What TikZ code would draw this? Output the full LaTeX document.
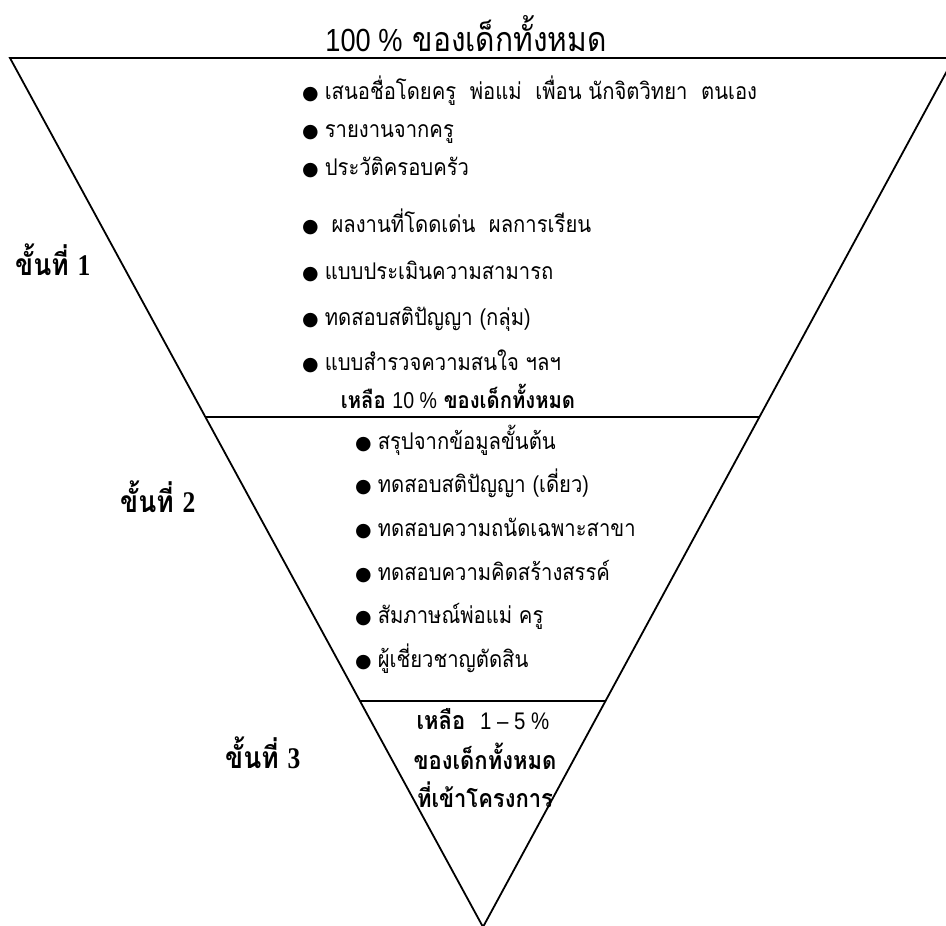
\documentclass[tikz,border=0pt]{standalone}
\usepackage{fontspec}
\usetikzlibrary{calc}
\newfontfamily\thaifont[Script=Thai,FakeStretch=0.88]{Loma}
\newfontfamily\latfont[FakeStretch=0.85]{Liberation Sans}
\newfontfamily\tmsfont[FakeStretch=0.85]{Liberation Serif}
\newfontfamily\dejavufont{DejaVu Sans}
\newcommand{\mybul}{{\dejavufont\fontsize{19}{19}\selectfont ●}\hspace{6pt}}
\tikzset{
  tri/.style={line width=1.8pt, black, line join=miter},
  itm/.style={anchor=base west, inner sep=0pt, font=\thaifont\fontsize{23}{26}\selectfont},
  stagelbl/.style={anchor=base west, inner sep=0pt, font=\thaifont\bfseries\fontsize{30}{32}\selectfont},
  ttl/.style={anchor=base, inner sep=0pt, font=\thaifont\fontsize{34}{36}\selectfont},
  rem/.style={anchor=base, inner sep=0pt, font=\thaifont\bfseries\fontsize{23}{26}\selectfont},
  remb/.style={anchor=base, inner sep=0pt, font=\thaifont\bfseries\fontsize{25}{28}\selectfont},
}
\begin{document}
\begin{tikzpicture}[x=1pt,y=-1pt]
\useasboundingbox (0,0) rectangle (946,926);
\fill[white] (0,0) rectangle (946,926);
\begin{scope}
\clip (0,0) rectangle (946,926);
\coordinate (TL) at (10,58);
\coordinate (TR) at (954,58);
\coordinate (AP) at (483,927);
\draw[tri] (TL) -- (TR) -- (AP) -- cycle;
\coordinate (L2) at ($(TL)!0.4131!(AP)$);
\coordinate (R2) at ($(TR)!0.4131!(AP)$);
\coordinate (L3) at ($(TL)!0.7399!(AP)$);
\coordinate (R3) at ($(TR)!0.7399!(AP)$);
\draw[tri] (L2) -- (R2);
\draw[tri] (L3) -- (R3);
\end{scope}

\node[ttl] (title) at (466,51) {{\latfont\fontsize{32}{34}\selectfont 100 \%} ของเด็กทั้งหมด};

\node[stagelbl] (s1) at (15,275) {ขั้นที่ {\tmsfont\bfseries\fontsize{30}{30}\selectfont 1}};
\node[stagelbl] (s2) at (120,512) {ขั้นที่ {\tmsfont\bfseries\fontsize{30}{30}\selectfont 2}};
\node[stagelbl] (s3) at (225,768) {ขั้นที่ {\tmsfont\bfseries\fontsize{30}{30}\selectfont 3}};

\node[itm] (a1) at (302,99)  {\mybul เสนอชื่อโดยครู\ \ พ่อแม่\ \ เพื่อน นักจิตวิทยา\ \ ตนเอง};
\node[itm] (a2) at (302,137) {\mybul รายงานจากครู};
\node[itm] (a3) at (302,175) {\mybul ประวัติครอบครัว};
\node[itm] (a4) at (302,232) {\mybul\ ผลงานที่โดดเด่น\ \ ผลการเรียน};
\node[itm] (a5) at (302,279) {\mybul แบบประเมินความสามารถ};
\node[itm] (a6) at (302,325) {\mybul ทดสอบสติปัญญา {\latfont (}กลุ่ม{\latfont )}};
\node[itm] (a7) at (302,370) {\mybul แบบสำรวจความสนใจ ฯลฯ};

\node[rem] (r10) at (458,408) {เหลือ {\latfont\mdseries\fontsize{23}{25}\selectfont 10 \%} ของเด็กทั้งหมด};

\node[itm] (b1) at (355,449) {\mybul สรุปจากข้อมูลขั้นต้น};
\node[itm] (b2) at (355,492) {\mybul ทดสอบสติปัญญา {\latfont (}เดี่ยว{\latfont )}};
\node[itm] (b3) at (355,536) {\mybul ทดสอบความถนัดเฉพาะสาขา};
\node[itm] (b4) at (355,580) {\mybul ทดสอบความคิดสร้างสรรค์};
\node[itm] (b5) at (355,623) {\mybul สัมภาษณ์พ่อแม่ ครู};
\node[itm] (b6) at (355,667) {\mybul ผู้เชี่ยวชาญตัดสิน};

\node[remb] (c1) at (483,729) {เหลือ\ \ {\latfont\mdseries\fontsize{24}{26}\selectfont 1 – 5 \%}};
\node[remb] (c2) at (485,769) {ของเด็กทั้งหมด};
\node[remb] (c3) at (485,807) {ที่เข้าโครงการ};
\end{tikzpicture}
\end{document}
